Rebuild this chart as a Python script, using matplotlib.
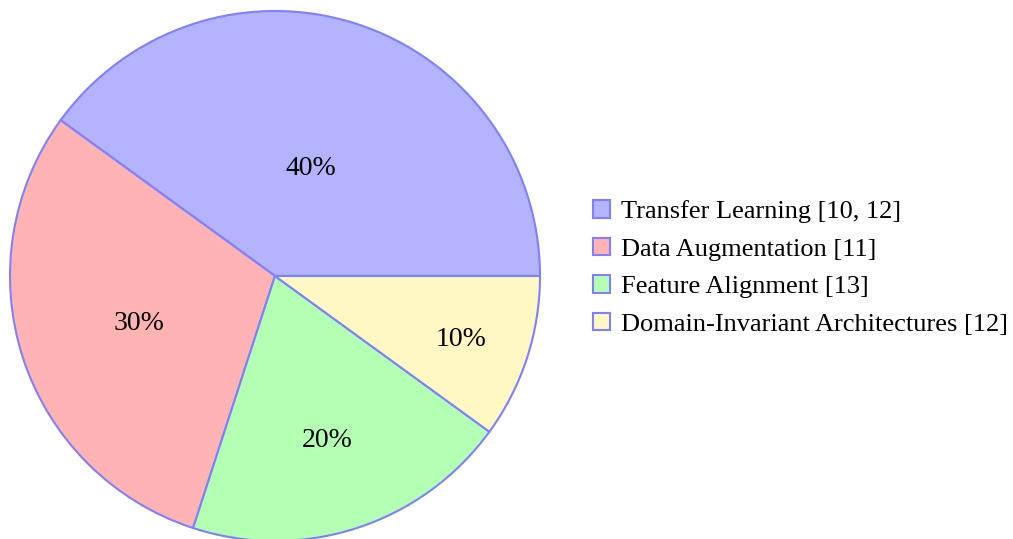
import numpy as np
import matplotlib.pyplot as plt
from matplotlib.patches import Patch

labels = ["Transfer Learning [10, 12]", "Data Augmentation [11]",
          "Feature Alignment [13]", "Domain-Invariant Architectures [12]"]
shares = [40, 30, 20, 10]
colors = ["#b3b3ff", "#ffb3b3", "#b3ffb3", "#fff8c2"]
edge = "#8080ff"

plt.rcParams['font.family'] = ['Liberation Serif', 'DejaVu Serif']

fig = plt.figure(figsize=(10.13, 5.39), dpi=100)
ax = fig.add_axes([10 / 1013, -2 / 539, 530 / 1013, 530 / 539])

wedges, _ = ax.pie(shares, colors=colors, startangle=0, counterclock=True,
                   radius=1, wedgeprops=dict(edgecolor=edge, linewidth=1.5))

# pgf-pie style: smaller slices get their label further out
for w, v in zip(wedges, shares):
    mid = np.deg2rad((w.theta1 + w.theta2) / 2)
    d = 0.84 - v / 100
    ax.text(d * np.cos(mid), d * np.sin(mid) - 0.012, f"{v}%", ha='center',
            va='center', fontsize=20)

ax.set_xlim(-1, 1)
ax.set_ylim(-1, 1)
ax.set_aspect('equal')
ax.axis('off')

handles = [Patch(facecolor=c, edgecolor=edge, linewidth=1.5) for c in colors]
fig.legend(handles, labels, loc='center left', bbox_to_anchor=(569 / 1013, 1 - 268 / 539),
           frameon=False, fontsize=19, handlelength=0.65, handleheight=0.65,
           handletextpad=0.42, labelspacing=0.55)

fig.savefig("out.png", dpi=100)
